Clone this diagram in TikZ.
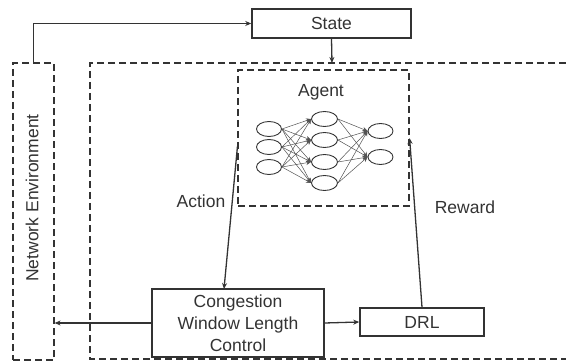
\documentclass[tikz,border=0pt]{standalone}
\usepackage{fontspec}
\setmainfont{Liberation Sans}
\usetikzlibrary{arrows.meta,shapes.geometric}
\definecolor{ink}{HTML}{333333}
\begin{document}
\begin{tikzpicture}[x=1pt,y=-1pt,
  box/.style={draw=ink, line width=1.5pt, rectangle, inner sep=0pt},
  dashbox/.style={draw=ink, line width=1.2pt, dash pattern=on 7pt off 4pt},
  lbl/.style={text=ink, font=\fontsize{17.5}{22}\selectfont},
  conn/.style={draw=ink, line width=1.3pt, -{Stealth[length=6pt,width=5pt]}},
  neuron/.style={draw=ink, ellipse, line width=0.9pt, minimum width=25pt, minimum height=15pt, inner sep=0pt},
  syn/.style={draw=ink!85, line width=0.5pt, -{Stealth[length=5pt,width=4.5pt]}}
]
\useasboundingbox (0,0) rectangle (566,361);

% outer system frame (open to the right)
\draw[dashbox] (566,63) -- (90,63) -- (90,359) -- (566,359);

% state box
\node[box, lbl, minimum width=159pt, minimum height=29pt] (state) at (331.5,23.5) {State};

% network environment
\node[dashbox, minimum width=41pt, minimum height=297pt, inner sep=0pt] (env) at (33.5,211.5) {};
\node[lbl, rotate=90, inner sep=0pt] (envtext) at (32,198) {Network Environment};

% agent with its network
\node[dashbox, minimum width=171pt, minimum height=136pt, inner sep=0pt] (agent) at (323.5,138) {};
\node[lbl, inner sep=0pt] (agenttext) at (321,92) {Agent};

\foreach \i/\y in {1/129,2/147,3/167}
  \node[neuron] (in\i) at (269,\y) {};
\foreach \j/\y in {1/119,2/140,3/162,4/183}
  \node[neuron, minimum width=26pt] (hid\j) at (324.5,\y) {};
\foreach \k/\y in {1/131,2/157}
  \node[neuron] (out\k) at (380.5,\y) {};

\foreach \i in {1,2,3}
  \foreach \j in {1,2,3,4}
    \draw[syn] (in\i.east) -- (hid\j.west);
\foreach \j in {1,2,3,4}
  \foreach \k in {1,2}
    \draw[syn] (hid\j.east) -- (out\k.west);

% lower blocks
\node[box, lbl, align=center, minimum width=172pt, minimum height=68pt] (cwlc) at (238,323) {Congestion\\Window Length\\Control};
\node[box, lbl, minimum width=124pt, minimum height=28pt] (drl) at (422,322) {DRL};

% labels
\node[lbl, inner sep=0pt] (action) at (201,201) {Action};
\node[lbl, inner sep=0pt] (reward) at (465,207) {Reward};

% connectors
\coordinate (outertop) at (332,63);
\coordinate (actfrom) at (237.5,146);
\coordinate (actto) at (224,289);
\draw[conn] (env.north) |- (state.west);
\draw[conn] (state.south) -- (outertop);
\draw[conn] (actfrom) -- (actto);
\draw[conn] (drl.north) -- (agent.east);
\draw[conn] (cwlc.east) -- (drl.west);
\draw[conn] (cwlc.west) -- (cwlc.west -| env.east);
\end{tikzpicture}
\end{document}
